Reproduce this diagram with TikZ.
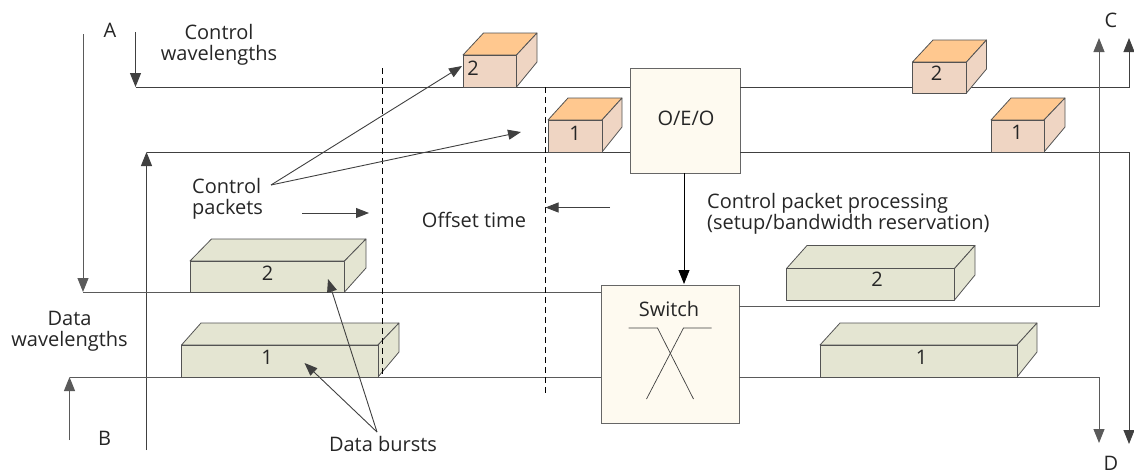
\documentclass[tikz,border=0pt]{standalone}
\usepackage{fontspec}
\setmainfont{Open Sans}
\usetikzlibrary{arrows.meta}
\definecolor{ln}{HTML}{404040}
\definecolor{lngrey}{HTML}{5A5A5A}
\definecolor{orangetop}{HTML}{FFC88F}
\definecolor{pinkfront}{HTML}{EFD5C3}
\definecolor{datafill}{HTML}{E4E5D2}
\definecolor{unitfill}{HTML}{FEFAF0}
\tikzset{
  wire/.style={draw=ln,line width=0.9pt},
  greywire/.style={draw=lngrey,line width=1pt},
  arr/.style={wire,-{Triangle[length=14pt,width=11pt]}},
  greyarr/.style={greywire,-{Triangle[length=14pt,width=11pt]}},
  lead/.style={wire,-{Triangle[length=13pt,width=10pt]}},
  dashline/.style={draw=black,line width=0.8pt,dash pattern=on 6pt off 4pt},
  lbl/.style={font=\fontsize{20}{21}\selectfont,text=black!85,inner sep=0pt,align=center},
  unit/.style={draw=ln!80,line width=1.2pt,fill=unitfill,inner sep=0pt},
  boxedge/.style={draw=ln!90,line width=0.8pt,line join=round},
}
\newcommand{\packetbox}[8]{%
  \filldraw[boxedge,fill=orangetop] (#1,#3) -- (#5,#7) -- (#6,#7) -- (#2,#3) -- cycle;
  \filldraw[boxedge,fill=pinkfront] (#2,#3) -- (#6,#7) -- (#6,#8) -- (#2,#4) -- cycle;
  \filldraw[boxedge,fill=pinkfront] (#1,#3) rectangle (#2,#4);
}
\newcommand{\burstbox}[8]{%
  \filldraw[boxedge,fill=datafill] (#1,#3) -- (#5,#7) -- (#6,#7) -- (#2,#3) -- cycle;
  \filldraw[boxedge,fill=datafill] (#2,#3) -- (#6,#7) -- (#6,#8) -- (#2,#4) -- cycle;
  \filldraw[boxedge,fill=datafill] (#1,#3) rectangle (#2,#4);
}
\begin{document}
\begin{tikzpicture}[x=1pt,y=-1pt]
\useasboundingbox (0,0) rectangle (1134,474);
% units
\node[unit,minimum width=110pt,minimum height=105pt,anchor=north west] (oeo) at (630,68) {};
\node[lbl] (oeotext) at (686,118) {O/E/O};
\node[unit,minimum width=138pt,minimum height=138pt,anchor=north west] (switch) at (601,285) {};
\node[lbl] (switchtext) at (669,309) {Switch};
% free ends
\coordinate (aTop) at (135.5,32);
\coordinate (aCorner) at (135.5,87);
\coordinate (bTop) at (146.5,450);
\coordinate (bCorner) at (146.5,152);
\coordinate (dTop) at (83,34);
\coordinate (dCorner) at (83,292);
\coordinate (eBot) at (69.5,440);
\coordinate (eCorner) at (69.5,377);
\coordinate (oeoIn1) at (630,87);
\coordinate (oeoIn2) at (630,152);
\coordinate (oeoOut1) at (740,87);
\coordinate (oeoOut2) at (740,152);
\coordinate (swIn1) at (601,292);
\coordinate (swIn2) at (601,377);
\coordinate (swOut1) at (739,306);
\coordinate (swOut2) at (739,377);
\coordinate (oeoDown) at (684,173);
\coordinate (swTop) at (684,284);
\coordinate (r1) at (1099,306);
\coordinate (r1end) at (1099,38);
\coordinate (r2) at (1099,377);
\coordinate (r2end) at (1099,443);
\coordinate (s1) at (1129,87);
\coordinate (s1end) at (1129,38);
\coordinate (s2) at (1129,152);
\coordinate (s2end) at (1129,444);
% wires
\draw[arr] (aTop) -- (aCorner);
\draw[wire] (aCorner) -- (oeoIn1);
\draw[arr] (bTop) -- (bCorner);
\draw[wire] (bCorner) -- (oeoIn2);
\draw[greyarr] (dTop) -- (dCorner);
\draw[greywire] (dCorner) -- (swIn1);
\draw[greyarr] (eBot) -- (eCorner);
\draw[greywire] (eCorner) -- (swIn2);
\draw[arr] (oeoOut1) -- (s1) -- (s1end);
\draw[arr] (oeoOut2) -- (s2) -- (s2end);
\draw[greyarr] (swOut1) -- (r1) -- (r1end);
\draw[greyarr] (swOut2) -- (r2) -- (r2end);
\draw[arr,draw=black] (oeoDown) -- (swTop);
% packets
\packetbox{463}{516.5}{55}{87}{483.5}{537}{33}{62}
\node[lbl] (p2) at (473,68) {2};
\packetbox{548}{602}{120}{152}{568}{622}{98}{127}
\node[lbl] (p1) at (575,133) {1};
\packetbox{912.5}{966.5}{62}{93}{933}{986.5}{40}{69}
\node[lbl] (q2) at (936.5,73) {2};
\packetbox{991}{1044}{120}{152}{1011}{1065}{98}{127}
\node[lbl] (q1) at (1017,132) {1};
% bursts
\burstbox{190}{344.5}{261}{292}{211.5}{366}{239}{268}
\node[lbl] (b2) at (267.5,273) {2};
\burstbox{181.5}{378}{345}{377}{201}{399}{323}{352}
\node[lbl] (b1) at (267,357) {1};
\burstbox{786.5}{954.5}{268.5}{300}{807}{975}{245.5}{275}
\node[lbl] (c2) at (877,279) {2};
\burstbox{820}{1017}{345}{377}{840}{1037}{323}{352}
\node[lbl] (c1) at (921.5,357) {1};
% dashed timing marks
\coordinate (t1a) at (382,68);
\coordinate (t1b) at (382,375);
\coordinate (t2a) at (545,87);
\coordinate (t2b) at (545,394);
\draw[dashline] (t1a) -- (t1b);
\draw[dashline] (t2a) -- (t2b);
% switch symbol
\coordinate (x1) at (628.5,328);
\coordinate (x2) at (657.5,328);
\coordinate (x3) at (693.5,399);
\coordinate (x4) at (711.5,328);
\coordinate (x5) at (683.5,328);
\coordinate (x6) at (646.5,399);
\draw[wire,line width=0.7pt] (x1) -- (x2) -- (x3);
\draw[wire,line width=0.7pt] (x4) -- (x5) -- (x6);
% labels
\node[lbl] (lA) at (110,30) {A};
\node[lbl] (lB) at (104.5,438) {B};
\node[lbl] (lC) at (1111,20) {C};
\node[lbl] (lD) at (1111,463) {D};
\node[lbl] (lcw) at (219,45) {Control\\wavelengths};
\node[lbl] (ldw) at (69.5,331) {Data\\wavelengths};
\node[lbl,align=left,anchor=west] (lcp) at (192,199) {Control\\packets};
\node[lbl] (loff) at (474,220) {Offset time};
\node[lbl,align=left,anchor=west] (lproc) at (707,214) {Control packet processing\\(setup/bandwidth reservation)};
\node[lbl] (ldb) at (383,444) {Data bursts};
% leaders
\coordinate (cpFrom) at (271,185);
\coordinate (cpTo2) at (462,66);
\coordinate (cpTo1) at (521,132);
\coordinate (dbFrom) at (377,432);
\coordinate (dbTo2) at (328,279);
\coordinate (dbTo1) at (304.5,363);
\draw[lead] (cpFrom) -- (cpTo2);
\draw[lead] (cpFrom) -- (cpTo1);
\draw[lead] (dbFrom) -- (dbTo2);
\draw[lead] (dbFrom) -- (dbTo1);
\coordinate (offL) at (302,213);
\coordinate (offLend) at (369,213);
\coordinate (offR) at (610,207.5);
\coordinate (offRend) at (545.5,207.5);
\draw[lead] (offL) -- (offLend);
\draw[lead] (offR) -- (offRend);
\end{tikzpicture}
\end{document}
